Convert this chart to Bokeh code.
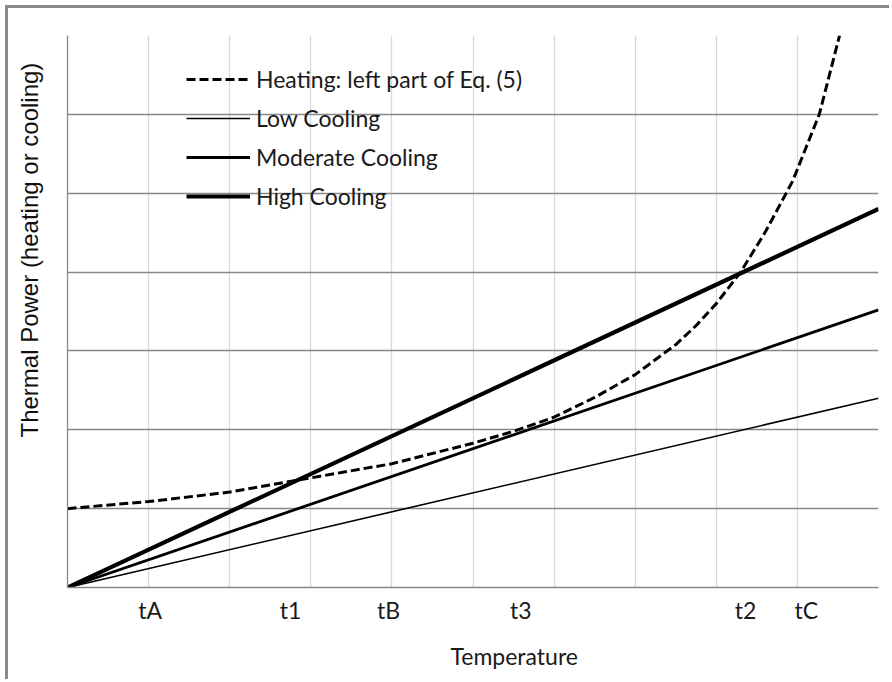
from bokeh.plotting import figure
from bokeh.models import Range1d, FixedTicker, Legend, LegendItem, Title
from bokeh.embed import file_html
from bokeh.resources import INLINE

# ---- data ----
heat_x = [0, 1, 2, 3, 4, 5, 5.5, 6, 6.5, 7, 7.5, 7.75, 8, 8.3, 8.6, 8.94, 9.27, 9.52]
heat_y = [1.0, 1.09, 1.21, 1.39, 1.57, 1.83, 1.98, 2.16, 2.41, 2.7, 3.08, 3.32, 3.6, 4.0, 4.5, 5.15, 6.0, 7.0]
cool_x = [0, 10]
low_y = [0, 2.40]
moderate_y = [0, 3.52]
high_y = [0, 4.80]
tick_pos = [1.02, 2.75, 3.96, 5.59, 8.36, 9.11]
tick_labels = ["tA", "t1", "tB", "t3", "t2", "tC"]
series_names = ["Heating: left part of Eq. (5)", "Low Cooling", "Moderate Cooling", "High Cooling"]

FONT = "Lato"
GRID_DARK = "#888888"
GRID_LIGHT = "#d9d9d9"

p = figure(width=884, height=674, x_range=Range1d(0, 10), y_range=Range1d(0, 7),
           output_backend="svg", toolbar_location=None,
           min_border_left=59, min_border_right=14, min_border_top=27, min_border_bottom=95)
p.styles = {"margin-left": "5px", "margin-top": "5px",
            "border-left": "3px solid #8a8a8a", "border-top": "3px solid #8a8a8a"}
p.outline_line_color = None
p.background_fill_color = "white"
p.border_fill_color = "white"

p.xgrid.ticker = FixedTicker(ticks=list(range(0, 11)))
p.ygrid.ticker = FixedTicker(ticks=list(range(0, 8)))
p.xgrid.grid_line_color = GRID_LIGHT
p.xgrid.grid_line_width = 1.3
p.ygrid.grid_line_color = GRID_DARK
p.ygrid.grid_line_width = 1.3

p.xaxis.ticker = FixedTicker(ticks=tick_pos)
p.xaxis.major_label_overrides = {t: l for t, l in zip(tick_pos, tick_labels)}
p.xaxis.major_tick_line_color = None
p.xaxis.minor_tick_line_color = None
p.xaxis.axis_line_color = GRID_DARK
p.xaxis.axis_line_width = 1.3
p.xaxis.major_label_text_font = FONT
p.xaxis.major_label_text_font_size = "23px"
p.xaxis.major_label_text_color = "#1a1a1a"
p.xaxis.major_label_standoff = 2

p.yaxis.ticker = FixedTicker(ticks=[])
p.yaxis.major_tick_line_color = None
p.yaxis.minor_tick_line_color = None
p.yaxis.axis_line_color = GRID_DARK
p.yaxis.axis_line_width = 1.3
p.yaxis.major_label_text_font_size = "0px"

r_heat = p.line(heat_x, heat_y, line_color="black", line_width=3, line_dash="9 4")
r_low = p.line(cool_x, low_y, line_color="black", line_width=1.6)
r_mod = p.line(cool_x, moderate_y, line_color="black", line_width=2.8)
r_high = p.line(cool_x, high_y, line_color="black", line_width=4.2)

legend = Legend(items=[LegendItem(label=n, renderers=[r]) for n, r in
                       zip(series_names, [r_heat, r_low, r_mod, r_high])],
                location=(119, 377), orientation="vertical")
legend.glyph_width = 64
legend.glyph_height = 28
legend.label_height = 28
legend.spacing = 11
legend.padding = 0
legend.margin = 0
legend.label_standoff = 6
legend.label_text_font = FONT
legend.label_text_font_size = "23px"
legend.label_text_color = "#1a1a1a"
legend.border_line_color = None
legend.background_fill_alpha = 0
p.add_layout(legend, "center")

p.add_layout(Title(text="Temperature", align="left", offset=383, standoff=26,
                   text_font=FONT, text_font_size="23px", text_font_style="normal",
                   text_color="#1a1a1a"), "below")
# spacer between the y axis line and the y title
p.add_layout(Title(text=" ", standoff=22, text_font_size="1px", text_color="white"), "left")
p.add_layout(Title(text="Thermal Power (heating or cooling)", align="left", offset=150,
                   standoff=0, text_font="Liberation Sans", text_font_size="24px",
                   text_font_style="normal", text_color="#111111"), "left")

open("out.html", "w").write(file_html(p, INLINE))
